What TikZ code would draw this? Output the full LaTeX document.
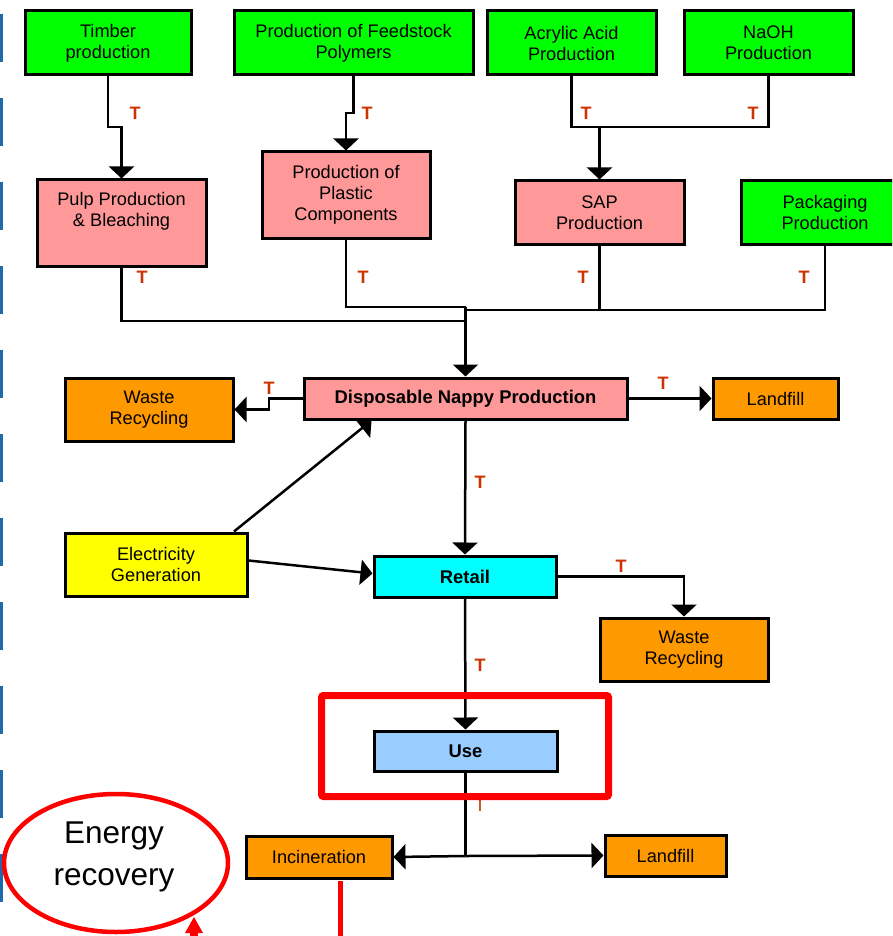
\documentclass[tikz,border=0pt]{standalone}
\usepackage{fontspec}
\setmainfont{Liberation Sans}
\usetikzlibrary{arrows.meta,shapes.geometric,calc}
\definecolor{cgreen}{RGB}{0,255,0}
\definecolor{cpink}{RGB}{255,153,153}
\definecolor{corange}{RGB}{255,153,0}
\definecolor{cyellow}{RGB}{255,255,0}
\definecolor{ccyan}{RGB}{0,255,255}
\definecolor{cblue}{RGB}{153,204,255}
\definecolor{tcol}{RGB}{204,51,0}
\definecolor{markblue}{RGB}{31,105,175}
\definecolor{hired}{RGB}{255,0,0}
\begin{document}
\begin{tikzpicture}[x=1pt,y=-1pt,
  box/.style={draw=black, line width=3pt, inner sep=0pt, align=center, font=\fontsize{18.2}{21}\selectfont},
  sz/.style 2 args={minimum width=#1pt, minimum height=#2pt},
  conn/.style={line width=2.5pt, draw=black},
  arr/.style={conn, -{Triangle[width=25pt,length=12pt]}},
  tlab/.style={text=tcol, font=\fontsize{18}{21}\selectfont\bfseries, inner sep=0pt},
  edgemark/.style={draw=markblue, line width=3pt},
  redline/.style={draw=hired, line width=4.5pt},
]
\useasboundingbox (0,0) rectangle (892,936);
\clip (0,0) rectangle (892,936);

% left-edge marks
\foreach \k in {0,...,10} {
  \draw[edgemark] (1.5,{14+84*\k}) -- (1.5,{62+84*\k});
}

% top row
\node[box, fill=cgreen, sz={166}{64}] (timber) at (108,43) {Timber\\production};
\node[box, fill=cgreen, sz={239}{64}] (feed) at (353.5,43) {Production of Feedstock\\Polymers};
\node[box, fill=cgreen, sz={169}{64}] (acrylic) at (571.5,43) {Acrylic Acid\\Production};
\node[box, fill=cgreen, sz={169}{64}] (naoh) at (768.5,43) {NaOH\\Production};

% second row
\node[box, fill=cpink, sz={169}{86}] (pulp) at (121.5,223) {};
\node[align=center, inner sep=0pt, font=\fontsize{18.2}{21}\selectfont] (pulptext) at (121.5,211.5) {Pulp Production\\\& Bleaching};
\node[box, fill=cpink, sz={168}{86}] (plastic) at (346,195) {Production of\\Plastic\\Components};
\node[box, fill=cpink, sz={169}{63}] (sap) at (599.5,212.5) {SAP\\Production};
\node[box, fill=cgreen, sz={168}{63}] (pack) at (825,212.5) {Packaging\\Production};

% middle
\node[box, fill=cpink, sz={323}{41}, font=\fontsize{18.4}{21}\selectfont\bfseries] (disp) at (465.5,398.5) {Disposable Nappy Production};
\node[box, fill=corange, sz={168}{63}] (wr1) at (149,409.5) {Waste\\Recycling};
\node[box, fill=corange, sz={125}{41}] (lf1) at (775.5,398.5) {Landfill};
\node[box, fill=cyellow, sz={182}{63}] (elec) at (156,564.5) {Electricity\\Generation};
\node[box, fill=ccyan, sz={182}{41}, font=\fontsize{18.4}{21}\selectfont\bfseries] (retail) at (465,576.5) {Retail};
\node[box, fill=corange, sz={168}{63}] (wr2) at (684,649.5) {Waste\\Recycling};
\node[box, fill=cblue, sz={183}{40}, font=\fontsize{18.4}{21}\selectfont\bfseries] (use) at (465.5,751) {Use};
\node[box, fill=corange, sz={146}{42}] (incin) at (319,857) {Incineration};
\node[box, fill=corange, sz={121}{41}] (lf2) at (665.5,855.5) {Landfill};

% top connectors
\draw[arr] (timber.south) |- (121.5,127) -- (pulp.north);
\node[tlab] (t1) at (135,113) {T};
\draw[arr] (feed.south) |- (346,113) -- (plastic.north);
\node[tlab] (t2) at (367,113) {T};
\coordinate (sapj) at (599.5,127);
\draw[conn] (acrylic.south) |- (sapj) -| (naoh.south);
\draw[arr] (sapj) -- (sap.north);
\node[tlab] (t3) at (586,113) {T};
\node[tlab] (t4) at (753,113) {T};

% collector
\coordinate (hub) at (465.5,307);
\coordinate (hub2) at (465.5,310);
\coordinate (hub3) at (465.5,321);
\draw[conn] (pulp.south) |- (hub3);
\draw[conn] (plastic.south) |- (hub);
\draw[conn] (sap.south) |- (hub2);
\draw[conn] (pack.south) |- (sap.south |- hub2);
\draw[arr] (hub) -- (disp.north);
\node[tlab] (t5) at (142,277) {T};
\node[tlab] (t6) at (363,277) {T};
\node[tlab] (t7) at (583,277) {T};
\node[tlab] (t8) at (804,277) {T};

% disposable outputs
\draw[arr] (disp.west) -- (269,398.5) |- (wr1.east);
\node[tlab] (t9) at (269,388) {T};
\draw[arr] (disp.east) -- (lf1.west);
\node[tlab] (t10) at (663,383) {T};
\draw[arr] (disp.south) -- (retail.north);
\node[tlab] (t11) at (480,482) {T};

% electricity
\draw[arr] ($(elec.north)+(78,0)$) -- ($(disp.south west)+(69,0)$);
\draw[arr] ($(elec.east)+(0,-4)$) -- ($(retail.west)+(0,-3)$);

% retail outputs
\draw[arr] (retail.east) -| (wr2.north);
\node[tlab] (t12) at (621,566) {T};
\draw[arr] (retail.south) -- (use.north);
\node[tlab] (t13) at (480,665) {T};

% use outputs
\coordinate (split) at (465.5,856);
\draw[conn] (use.south) -- (split);
\draw[arr] (split) -- (incin.east);
\draw[arr] (split) -- (lf2.west);
\node[tlab, font=\fontsize{18}{21}\selectfont] (t14) at (480,805.5) {T};

% highlight
\node[draw=hired, line width=7pt, rounded corners=2pt, minimum width=287pt, minimum height=101pt, inner sep=0pt] (focus) at (465,746) {};

\node[ellipse, draw=hired, line width=4.5pt, minimum width=224pt, minimum height=138pt, inner sep=0pt] (energy) at (116,863) {};
\node[align=center, inner sep=0pt, font=\fontsize{31.5}{42}\selectfont] (energytext) at (114,857) {Energy\\recovery};

\draw[redline] ($(incin.south west)+(96,1)$) -- ++(0,70);
\coordinate (rtip) at (194,917);
\draw[draw=hired, line width=8pt] (194,945) -- (194,928);
\fill[hired] (rtip) -- (185,933) -- (203,933) -- cycle;
\end{tikzpicture}
\end{document}
